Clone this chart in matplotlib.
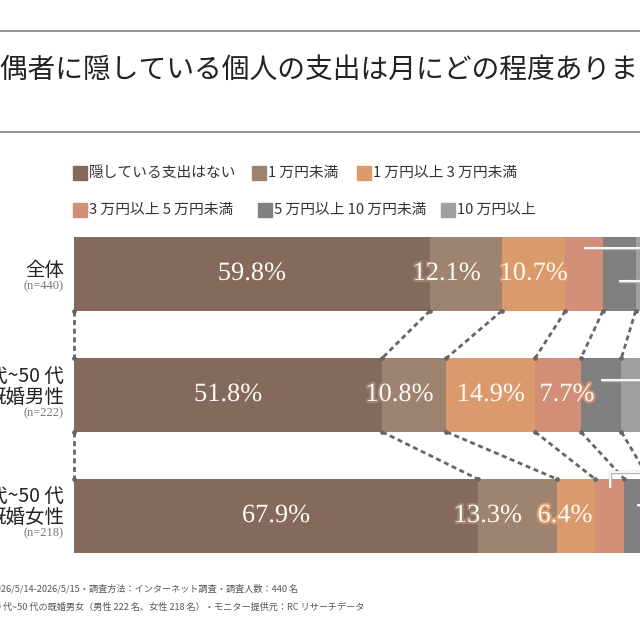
import matplotlib.pyplot as plt
import matplotlib.patheffects as pe

# 配偶者に隠している個人の支出（月額）

title = "配偶者に隠している個人の支出は月にどの程度ありますか？"

groups = ["全体", "20 代~50 代\n既婚男性", "20 代~50 代\n既婚女性"]
group_n = [440, 222, 218]

categories = [
    "隠している支出はない",
    "1 万円未満",
    "1 万円以上 3 万円未満",
    "3 万円以上 5 万円未満",
    "5 万円以上 10 万円未満",
    "10 万円以上",
]

none_hidden = [59.8, 51.8, 67.9]
under_1 = [12.1, 10.8, 13.3]
from_1_to_3 = [10.7, 14.9, 6.4]
from_3_to_5 = [6.3, 7.7, 4.9]
from_5_to_10 = [5.5, 6.8, 4.2]
over_10 = [5.6, 8.0, 3.3]

notes = [
    "調査期間：2026/5/14-2026/5/15・調査方法：インターネット調査・調査人数：440 名",
    "調査対象：20 代~50 代の既婚男女（男性 222 名、女性 218 名）・モニター提供元：RC リサーチデータ",
]

series = [none_hidden, under_1, from_1_to_3, from_3_to_5, from_5_to_10, over_10]
colors = ["#86695d", "#9e8371", "#db9a6b", "#d28e77", "#808080", "#a0a0a0"]

JP = ["Noto Sans CJK JP", "DejaVu Sans"]
SERIF = ["Liberation Serif", "DejaVu Serif"]

W = 640.0


def fx(px):
    return px / W


def fy(py):
    return 1 - py / W


fig = plt.figure(figsize=(6.4, 6.4), dpi=100)
fig.patch.set_facecolor("white")

# title block
for yy in (31, 132):
    fig.add_artist(plt.Line2D([0, 1], [fy(yy), fy(yy)], color="#8c9396",
                              lw=1.4, transform=fig.transFigure))
fig.text(fx(-28), fy(70), title, ha="left", va="center", fontsize=20,
         family=JP, color="#222222")

# legend (two rows, fixed layout)
legend_pos = [(73, 173), (252, 173), (357, 173), (73, 210), (258, 210), (441, 210)]
for (lx, ly), name, c in zip(legend_pos, categories, colors):
    fig.add_artist(plt.Rectangle((fx(lx), fy(ly + 7)), fx(14), 14 / W,
                                 color=c, transform=fig.transFigure))
    fig.text(fx(lx + 16), fy(ly), name, ha="left", va="center",
             fontsize=10.6, family=JP, color="#333333")

# bars
bar_h = 0.61
ax = fig.add_axes([fx(74), fy(553), 595 / W, 316 / W])
ax.set_xlim(0, 100)
ax.set_ylim(len(groups) - 1 + bar_h / 2, -bar_h / 2)
ax.axis("off")

rows = list(range(len(groups)))
lefts = [[0.0] * len(groups)]
for vals in series:
    lefts.append([a + b for a, b in zip(lefts[-1], vals)])

for j, vals in enumerate(series):
    ax.barh(rows, vals, left=lefts[j], height=bar_h, color=colors[j],
            linewidth=0)

# dashed connectors between rows
for i in rows[:-1]:
    for k in range(len(lefts)):
        x0 = lefts[k][i]
        x1 = lefts[k][i + 1]
        ax.plot([x0, x1], [i + bar_h / 2, i + 1 - bar_h / 2],
                color="#666666", lw=2.0, ls=(0, (1.8, 1.3)),
                clip_on=False, zorder=1)
        ax.plot([x0, x1], [i + bar_h / 2, i + 1 - bar_h / 2], ls="none",
                marker="o", ms=2.4, color="#666666", clip_on=False)

# value labels (small segments get a leader line out to the right)
nudge = {(0, 1): -3.2, (1, 1): -2.5, (1, 3): 1.5, (2, 1): -5.0, (2, 2): -1.9}
leaders = {
    (0, 3): (-0.215, None),
    (0, 4): (0.058, None),
    (0, 5): (0.2, None),
    (1, 4): (-0.124, None),
    (1, 5): (0.1, None),
    (2, 3): (-0.23, -0.36),
    (2, 4): (-0.09, None),
    (2, 5): (0.15, None),
}

for j, vals in enumerate(series):
    for i in rows:
        v = vals[i]
        cx = lefts[j][i] + v / 2
        if (i, j) in leaders:
            dy, elbow = leaders[(i, j)]
            ys = i + dy
            if elbow is None:
                xs_line, ys_line = [cx, 104], [ys, ys]
            else:
                xs_line, ys_line = [cx, cx, 104], [ys, i + elbow, i + elbow]
            ax.plot(xs_line, ys_line, color="white", lw=1.3, clip_on=False,
                    solid_capstyle="butt", zorder=4,
                    path_effects=[pe.Stroke(linewidth=2.4, foreground="#b5b5b5"),
                                  pe.Normal()])
        else:
            ax.text(cx + nudge.get((i, j), 0), i, f"{v:.1f}%", ha="center",
                    va="center", fontsize=19, family=SERIF, color="#fffaf3",
                    zorder=5,
                    path_effects=[pe.withStroke(linewidth=3, foreground=colors[j])])

# row labels
row_label_y = [(270, 286), (376, 413), (496, 533)]
for name, n, (ty, ny) in zip(groups, group_n, row_label_y):
    lines = name.split("\n")
    for k, line in enumerate(lines):
        fig.text(fx(64), fy(ty + 21 * k), line, ha="right", va="center",
                 fontsize=14, family=JP, color="#222222")
    fig.text(fx(64), fy(ny), f"(n={n})", ha="right", va="center",
             fontsize=9, family=SERIF, color="#777777")

# notes
for k, line in enumerate(notes):
    fig.text(fx(-55), fy(589 + 18 * k), line, ha="left", va="center",
             fontsize=6.6, family=JP, color="#555555")

fig.savefig("out.png", dpi=100)
plt.close(fig)
